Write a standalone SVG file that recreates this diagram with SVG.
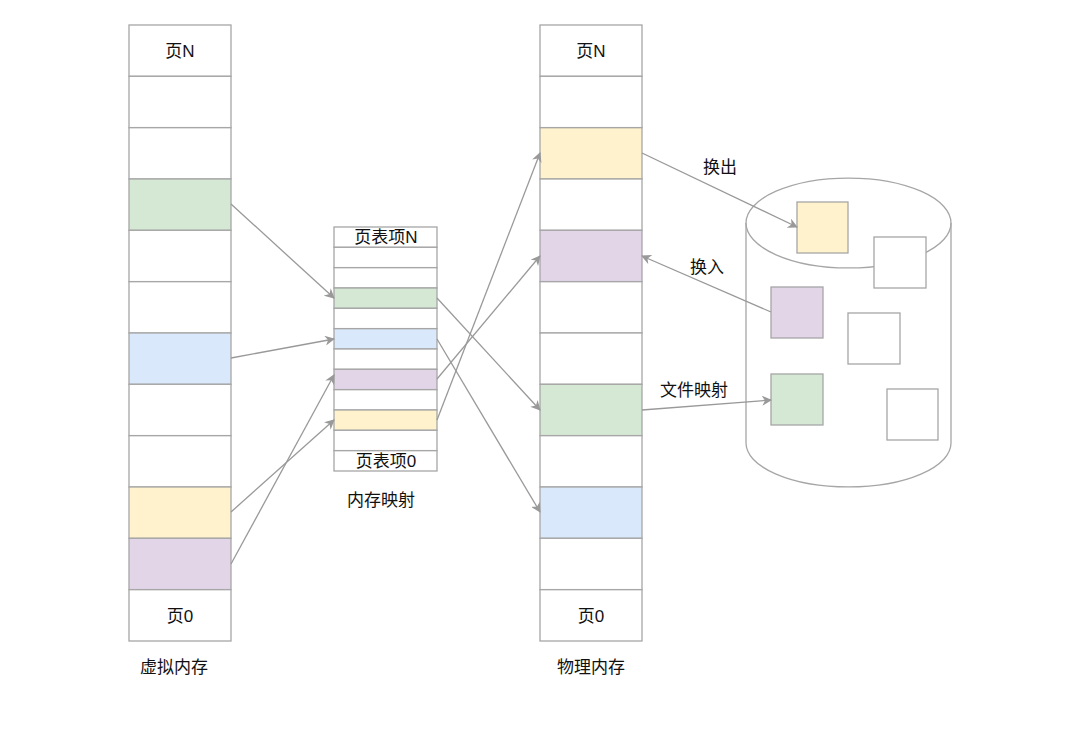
<svg xmlns="http://www.w3.org/2000/svg" width="1080" height="741" viewBox="0 0 1080 741">
<style>
.c{stroke:#a6a6a6;stroke-width:1.3}
.w{fill:#fff}.g{fill:#d5e8d4}.b{fill:#dae8fc}.y{fill:#fff2cc}.p{fill:#e1d5e7}
.t{font-family:"Liberation Sans","Noto Sans CJK SC",sans-serif;font-size:17px;fill:#111;text-anchor:middle;dominant-baseline:central}
.e{fill:none;stroke:#999;stroke-width:1.3;marker-end:url(#ah)}
</style>
<defs>
<marker id="ah" viewBox="0 0 10 10" refX="9" refY="5" markerWidth="10" markerHeight="10" markerUnits="userSpaceOnUse" orient="auto">
<path d="M0,0 L10,5 L0,10 L3,5 Z" fill="#999"/>
</marker>
</defs>
<rect width="1080" height="741" fill="#fff"/>
<g id="virtual">
<rect class="c w" x="129" y="25" width="102" height="51.3"/>
<rect class="c w" x="129" y="76.3" width="102" height="51.3"/>
<rect class="c w" x="129" y="127.7" width="102" height="51.3"/>
<rect class="c g" x="129" y="179" width="102" height="51.3"/>
<rect class="c w" x="129" y="230.3" width="102" height="51.3"/>
<rect class="c w" x="129" y="281.7" width="102" height="51.3"/>
<rect class="c b" x="129" y="333" width="102" height="51.3"/>
<rect class="c w" x="129" y="384.3" width="102" height="51.3"/>
<rect class="c w" x="129" y="435.7" width="102" height="51.3"/>
<rect class="c y" x="129" y="487" width="102" height="51.3"/>
<rect class="c p" x="129" y="538.3" width="102" height="51.3"/>
<rect class="c w" x="129" y="589.7" width="102" height="51.3"/>
<text class="t" x="180" y="51">页N</text>
<text class="t" x="180" y="616">页0</text>
<text class="t" x="174" y="667">虚拟内存</text>
</g>
<g id="physical">
<rect class="c w" x="540" y="25" width="102" height="51.3"/>
<rect class="c w" x="540" y="76.3" width="102" height="51.3"/>
<rect class="c y" x="540" y="127.7" width="102" height="51.3"/>
<rect class="c w" x="540" y="179" width="102" height="51.3"/>
<rect class="c p" x="540" y="230.3" width="102" height="51.3"/>
<rect class="c w" x="540" y="281.7" width="102" height="51.3"/>
<rect class="c w" x="540" y="333" width="102" height="51.3"/>
<rect class="c g" x="540" y="384.3" width="102" height="51.3"/>
<rect class="c w" x="540" y="435.7" width="102" height="51.3"/>
<rect class="c b" x="540" y="487" width="102" height="51.3"/>
<rect class="c w" x="540" y="538.3" width="102" height="51.3"/>
<rect class="c w" x="540" y="589.7" width="102" height="51.3"/>
<text class="t" x="591" y="51">页N</text>
<text class="t" x="591" y="616">页0</text>
<text class="t" x="591" y="667">物理内存</text>
</g>
<g id="pagetable">
<rect class="c w" x="334" y="227" width="103" height="20.3"/>
<rect class="c w" x="334" y="247.3" width="103" height="20.3"/>
<rect class="c w" x="334" y="267.7" width="103" height="20.3"/>
<rect class="c g" x="334" y="288" width="103" height="20.3"/>
<rect class="c w" x="334" y="308.3" width="103" height="20.3"/>
<rect class="c b" x="334" y="328.7" width="103" height="20.3"/>
<rect class="c w" x="334" y="349" width="103" height="20.3"/>
<rect class="c p" x="334" y="369.3" width="103" height="20.3"/>
<rect class="c w" x="334" y="389.7" width="103" height="20.3"/>
<rect class="c y" x="334" y="410" width="103" height="20.3"/>
<rect class="c w" x="334" y="430.3" width="103" height="20.3"/>
<rect class="c w" x="334" y="450.7" width="103" height="20.3"/>
<text class="t" x="386" y="237">页表项N</text>
<text class="t" x="386" y="461">页表项0</text>
<text class="t" x="381" y="500">内存映射</text>
</g>
<g id="disk">
<path class="c w" d="M746,223 A102.5,45 0 0 1 951,223 L951,443 A102.5,44 0 0 1 746,443 Z"/>
<path class="c" fill="none" d="M746,223 A102.5,45 0 0 0 951,223"/>
<rect class="c y" x="797" y="202" width="51" height="51"/>
<rect class="c w" x="874" y="237" width="52" height="51"/>
<rect class="c p" x="771" y="287" width="52" height="51"/>
<rect class="c w" x="848" y="313" width="52" height="51"/>
<rect class="c g" x="771" y="374" width="52" height="51"/>
<rect class="c w" x="887" y="389" width="51" height="51"/>
</g>
<g id="connectors">
<line class="e" x1="231" y1="204" x2="334" y2="298"/>
<line class="e" x1="231" y1="358" x2="334" y2="339"/>
<line class="e" x1="231" y1="512" x2="334" y2="420"/>
<line class="e" x1="231" y1="564" x2="334" y2="375"/>
<line class="e" x1="437" y1="298" x2="540" y2="410"/>
<line class="e" x1="437" y1="339" x2="540" y2="512"/>
<line class="e" x1="437" y1="379" x2="540" y2="256"/>
<line class="e" x1="437" y1="420" x2="540" y2="153"/>
<line class="e" x1="642" y1="153" x2="797" y2="227"/>
<line class="e" x1="771" y1="312" x2="642" y2="256"/>
<line class="e" x1="642" y1="410" x2="771" y2="400"/>
<text class="t" x="720" y="167">换出</text>
<text class="t" x="707" y="267">换入</text>
<text class="t" x="694" y="390">文件映射</text>
</g>
</svg>
